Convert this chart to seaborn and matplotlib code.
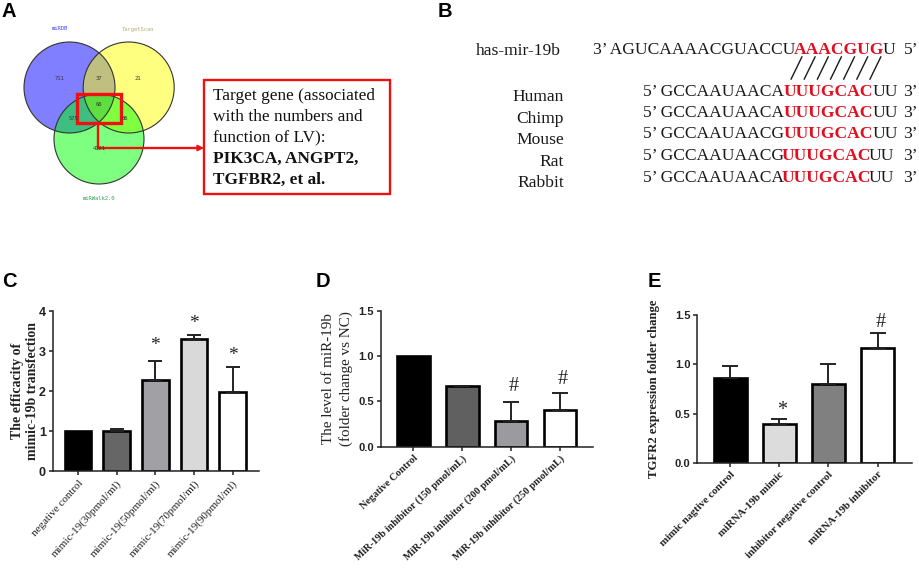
import matplotlib
matplotlib.use("Agg")
import matplotlib.pyplot as plt
from matplotlib.patches import Circle, Rectangle
import pandas as pd
import seaborn as sns

W, H = 920, 568

# Panel C
c_labels = ["negative control", "mimic-19(30pmol/ml)", "mimic-19(50pmol/ml)",
            "mimic-19(70pmol/ml)", "mimic-19(90pmol/ml)"]
c_values = [1.0, 1.0, 2.27, 3.3, 1.98]
c_errors = [0.0, 0.05, 0.48, 0.10, 0.62]
c_colors = ["#000000", "#666666", "#a0a0a6", "#d9d9d9", "#ffffff"]
c_marks = ["", "", "*", "*", "*"]
c_mark_y = [0, 0, 3.15, 3.69, 2.89]

# Panel D
d_labels = ["Negative Control", "MiR-19b inhibitor (150 pmol/mL)",
            "MiR-19b inhibitor (200 pmol/mL)", "MiR-19b inhibitor (250 pmol/mL)"]
d_values = [1.0, 0.67, 0.28, 0.40]
d_errors = [0.0, 0.005, 0.215, 0.19]
d_colors = ["#000000", "#606060", "#9a9aa0", "#ffffff"]
d_marks = ["", "", "#", "#"]
d_mark_y = [0, 0, 0.664, 0.741]

# Panel E
e_labels = ["mimic nagtive control", "miRNA-19b mimic",
            "inhibitor negative control", "miRNA-19b inhibitor"]
e_values = [0.86, 0.40, 0.80, 1.17]
e_errors = [0.12, 0.05, 0.20, 0.15]
e_colors = ["#000000", "#dcdcdc", "#808080", "#ffffff"]
e_marks = ["", "*", "", "#"]
e_mark_y = [0, 0.532, 0, 1.424]

# Panel A text
venn_titles = ["miRDB", "TargetScan", "miRWalk2.0"]
venn_numbers = ["711", "37", "21", "66", "575", "86", "4121"]
target_plain = ["Target gene (associated", "with the numbers and", "function of LV):"]
target_bold = ["PIK3CA, ANGPT2,", "TGFBR2, et al."]

# Panel B text
species = ["Human", "Chimp", "Mouse", "Rat", "Rabbit"]
seq_prefix = ["5’ GCCAAUAACA", "5’ GCCAAUAACA", "5’ GCCAAUAACG", "5’ GCCAAUAACG", "5’ GCCAAUAACA"]
seq_seed = "UUUGCAC"
seq_tail = "UU"

sns.set_theme(style="ticks")
SERIF = "Liberation Serif"
SANS = "Liberation Sans"
plt.rcParams["font.family"] = [SANS, "DejaVu Sans"]

fig = plt.figure(figsize=(W / 100, H / 100), dpi=100, facecolor="white")
ov = fig.add_axes([0, 0, 1, 1])
ov.set_xlim(0, W)
ov.set_ylim(H, 0)
ov.axis("off")


def px_axes(left, right, top, bottom):
    a = fig.add_axes([left / W, 1 - bottom / H, (right - left) / W, (bottom - top) / H])
    a.patch.set_alpha(0)
    return a


def bars(box, first, step, labels, values, errors, colors, marks, mark_y, ymax, yticks, yfmt,
         ylabel, label_x, label_space, tick_size, tick_weight, tick_rot, label_size, label_weight,
         ytick_size, cap, width, mark_size, mark_dx):
    left, right, top, bottom = box
    a = px_axes(left, right, top, bottom)
    df = pd.DataFrame({"label": labels, "value": values})
    sns.barplot(data=df, x="label", y="value", hue="label", palette=colors, dodge=False,
                legend=False, errorbar=None, width=width, edgecolor="black", linewidth=1.9, ax=a)
    pos = list(range(len(labels)))
    for i, (v, e) in enumerate(zip(values, errors)):
        if e > 0:
            a.errorbar(i, v, yerr=[[0], [e]], color="#222222", elinewidth=1.4, capsize=cap,
                       capthick=1.4, zorder=1.5)
        if marks[i]:
            a.text(i + mark_dx, mark_y[i], marks[i], ha="center", va="center",
                   family=SERIF, fontsize=mark_size, color="#222222")
    a.set_xlim((left - first) / step, (right - first) / step)
    a.set_ylim(0, ymax)
    a.set_xticks(pos)
    a.set_xticklabels(labels, rotation=tick_rot, ha="right", rotation_mode="anchor",
                      family=SERIF, fontsize=tick_size, fontweight=tick_weight, color="#222222")
    a.set_yticks(yticks)
    a.set_yticklabels([yfmt % t for t in yticks], family=SANS, fontsize=ytick_size,
                      fontweight="bold", color="#222222")
    a.set_xlabel("")
    a.set_ylabel(ylabel, family=SERIF, fontsize=label_size, fontweight=label_weight,
                 color="#222222", linespacing=label_space, va="center", ha="center")
    a.yaxis.set_label_coords((label_x - left) / (right - left), 0.5)
    a.tick_params(length=3, width=1.1, pad=2, color="#222222")
    sns.despine(ax=a)
    for s in ("left", "bottom"):
        a.spines[s].set_linewidth(1.1)
        a.spines[s].set_color("#222222")
    return a


bars((52.7, 259, 311, 471.3), 78, 38.67, c_labels, c_values, c_errors, c_colors, c_marks, c_mark_y,
     4, [0, 1, 2, 3, 4], "%d", "The efficacity of\nmimic-19b transfection", 25, 1.1,
     8, "normal", 48, 10, "bold", 9, 4.7, 0.69, 14, 0)
bars((380.7, 593, 310.7, 446.7), 413.3, 48.9, d_labels, d_values, d_errors, d_colors, d_marks, d_mark_y,
     1.5, [0, 0.5, 1.0, 1.5], "%.1f", "The level of miR-19b\n(folder change vs NC)", 337.5, 1.38,
     7.4, "bold", 43, 10.9, "normal", 8, 6, 0.67, 14.5, 0.06)
bars((697.3, 911.7, 315, 463), 730.3, 49.1, e_labels, e_values, e_errors, e_colors, e_marks, e_mark_y,
     1.5, [0, 0.5, 1.0, 1.5], "%.1f", "TGFR2 expression folder change", 654, 1.1,
     7.8, "bold", 45, 9.2, "bold", 8, 6, 0.67, 14.5, 0.06)

# Panel letters
for s, x, y in [("A", 2, 17), ("B", 438, 17), ("C", 2, 287), ("D", 316, 287), ("E", 648, 287)]:
    ov.text(x, y, s, fontsize=14.5, fontweight="bold", family=SANS, color="black", va="baseline")

# Venn
circles = [(69.5, 87.5, 45.5, "#0000ff"), (128.7, 87.5, 45.5, "#ffff00"), (99, 139, 45, "#00ff00")]
for (cx, cy, r, col) in circles:
    ov.add_patch(Circle((cx, cy), r, facecolor=col, alpha=0.5, edgecolor="none"))
for (cx, cy, r, col) in circles:
    ov.add_patch(Circle((cx, cy), r, facecolor="none", edgecolor="#333333", lw=0.8))
for s, x, y, col in [(venn_titles[0], 60, 29, "#4040ee"), (venn_titles[1], 138.5, 29, "#b0b070"),
                     (venn_titles[2], 99, 199, "#30a050")]:
    ov.text(x, y, s, fontsize=4, family="DejaVu Sans Mono", color=col, ha="center", va="center")
for s, x, y in zip(venn_numbers, [59.5, 99, 138, 99, 74, 125, 99], [78, 78, 78, 104, 118, 118, 149]):
    ov.text(x, y, s, fontsize=4, family="DejaVu Sans Mono", color="#333333", ha="center", va="center")

# Red selection, connector and box
RED = "#ee1111"
ov.add_patch(Rectangle((76.7, 93.7), 44.6, 29, facecolor="none", edgecolor=RED, lw=2.4))
ov.plot([98.3, 98.3, 198], [124, 148, 148], color=RED, lw=1.7, solid_joinstyle="miter")
ov.annotate("", xy=(204, 148), xytext=(195, 148),
            arrowprops=dict(arrowstyle="-|>", color=RED, lw=1.2, mutation_scale=9, shrinkA=0, shrinkB=0))
ov.add_patch(Rectangle((204, 79.5), 186.5, 114.5, facecolor="white", edgecolor=RED, lw=1.7))
for s, y in zip(target_plain, [100, 121, 142.5]):
    ov.text(213, y, s, family=SERIF, fontsize=12.4, color="#111111", va="baseline")
for s, y in zip(target_bold, [163, 184]):
    ov.text(213, y, s, family=SERIF, fontsize=12.4, fontweight="bold", color="#111111", va="baseline")

# Panel B
TXT = "#1a1a1a"
SEED = "#e01020"
fs = 12.6
ov.text(561, 55, "has-mir-19b", family=SERIF, fontsize=fs, color=TXT, ha="right", va="baseline")
ov.text(593.5, 53.5, "3’ AGUCAAAACGUACCU", family=SERIF, fontsize=fs, color=TXT, va="baseline")
ov.text(793.5, 53.5, "AAACGUG", family=SERIF, fontsize=fs, fontweight="bold", color=SEED, va="baseline")
ov.text(883, 53.5, "U", family=SERIF, fontsize=fs, color=TXT, va="baseline")
ov.text(904, 53.5, "5’", family=SERIF, fontsize=fs, color=TXT, va="baseline")
for i in range(7):
    ov.plot([791 + 13.15 * i, 802 + 13.15 * i], [79.3, 56.7], color=TXT, lw=1.0)
label_y = [100.7, 122.7, 144, 165.7, 187.3]
seq_y = [96, 117.3, 138.3, 160.5, 181.7]
seed_x = [784, 784, 784, 781.5, 781.5]
tail_x = [872.5, 872.5, 872.5, 869, 869]
for i in range(5):
    ov.text(564, label_y[i], species[i], family=SERIF, fontsize=fs, color=TXT, ha="right", va="baseline")
    ov.text(642.7, seq_y[i], seq_prefix[i], family=SERIF, fontsize=fs, color=TXT, va="baseline")
    ov.text(seed_x[i], seq_y[i], seq_seed, family=SERIF, fontsize=fs, fontweight="bold", color=SEED, va="baseline")
    ov.text(tail_x[i], seq_y[i], seq_tail, family=SERIF, fontsize=fs, color=TXT, va="baseline")
    ov.text(902.7, seq_y[i], "3’", family=SERIF, fontsize=fs, color=TXT, va="baseline")

fig.savefig("out.png", dpi=100, facecolor="white")
